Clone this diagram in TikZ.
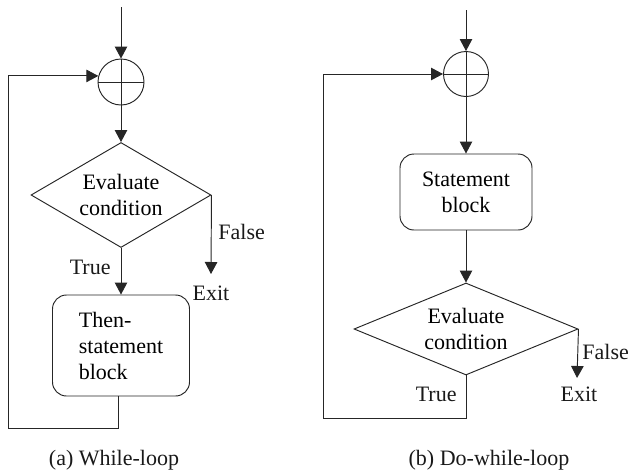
\documentclass[tikz,border=0pt]{standalone}
\usepackage{fontspec}
\setmainfont{Liberation Serif}
\usetikzlibrary{shapes.geometric,arrows.meta}
\newcommand\lblfont{\fontsize{22}{26}\selectfont}
\begin{document}
\begin{tikzpicture}[x=1pt,y=-1pt,
  line width=0.95pt,
  draw=black!85,
  >={Triangle[length=12pt,width=12.5pt]},
  arr/.style={->},
  sum/.style={circle,draw,inner sep=0pt},
  decide/.style={diamond,draw,inner sep=0pt,align=center,font=\lblfont},
  stmt/.style={rectangle,draw,rounded corners=14pt,inner sep=0pt,font=\lblfont},
  lbl/.style={font=\lblfont,inner sep=0pt,text=black!90}]
\useasboundingbox (0,0) rectangle (629,472);

% ---------- (a) while loop ----------
\coordinate (inA) at (121,7);
\coordinate (exitA) at (211,274);
\coordinate (loopA) at (8,428);
\node[sum,minimum size=46pt] (sumA) at (121,82) {};
\draw (sumA.north) -- (sumA.south) (sumA.west) -- (sumA.east);
\node[decide,aspect=1.714,minimum width=180pt,minimum height=105pt] (decA) at (121,195) {Evaluate\\condition};
\node[stmt,minimum width=137pt,minimum height=101pt,align=left] (boxA) at (121,345.5) {Then-\\statement\\block};

\draw[arr] (inA) -- (sumA);
\draw[arr] (sumA) -- (decA);
\draw[arr] (decA) -- (boxA);
\draw[arr] (decA.east) -- (exitA);
\draw[arr] ([xshift=-3pt]boxA.south) |- (loopA) |- (sumA.165);

\node[lbl,anchor=east] (trueA) at (111,267) {True};
\node[lbl,anchor=west] (falseA) at (218,232) {False};
\node[lbl] (exitLblA) at (211,293) {Exit};
\node[lbl] (capA) at (114,460) {(a) While-loop};

% ---------- (b) do-while loop ----------
\coordinate (inB) at (466,10);
\coordinate (exitB) at (577,378);
\coordinate (loopB) at (323,418);
\node[sum,minimum size=45pt] (sumB) at (466,74) {};
\draw (sumB.north) -- (sumB.south) (sumB.west) -- (sumB.east);
\node[stmt,minimum width=132pt,minimum height=76pt,align=center] (boxB) at (466,192) {Statement\\block};
\node[decide,aspect=2.43,minimum width=224pt,minimum height=92pt] (decB) at (466,329) {Evaluate\\condition};

\draw[arr] (inB) -- (sumB);
\draw[arr] (sumB) -- (boxB);
\draw[arr] (boxB) -- (decB);
\draw[arr] (decB.east) -- (exitB);
\draw[arr] (decB.south) |- (loopB) |- (sumB.west);

\node[lbl,anchor=east] (trueB) at (457,394) {True};
\node[lbl,anchor=west] (falseB) at (582,352) {False};
\node[lbl] (exitLblB) at (579,394) {Exit};
\node[lbl] (capB) at (489,460) {(b) Do-while-loop};
\end{tikzpicture}
\end{document}
